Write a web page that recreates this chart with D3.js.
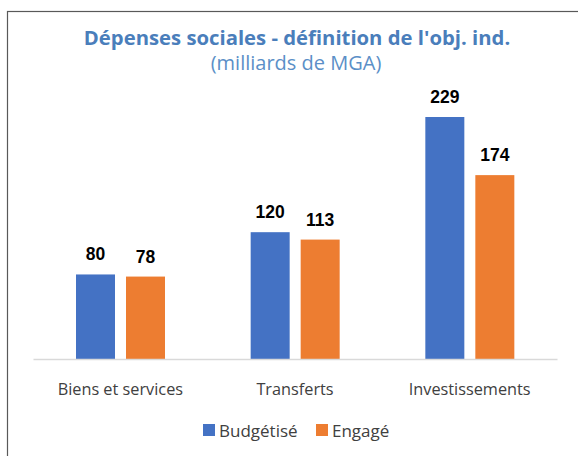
<!DOCTYPE html>
<html>
<head>
<meta charset="utf-8">
<script src="https://cdn.jsdelivr.net/npm/d3@7"></script>
<style>
  body { margin: 0; background: #fff; }
  svg { display: block; }
</style>
</head>
<body>
<svg></svg>
<script>
let width = 578;
let height = 456;

let categories = ['Biens et services', 'Transferts', 'Investissements'];
let seriesNames = ['Budgétisé', 'Engagé'];
let budgetise = [80, 120, 229];
let engage = [78, 113, 174];
let colors = ['#4472c4', '#ed7d31'];

let titleText = "Dépenses sociales - définition de l'obj. ind.";
let subtitleText = '(milliards de MGA)';

let font = "'Open Sans', 'Noto Sans', sans-serif";

let svg = d3.select('svg')
    .attr('width', width)
    .attr('height', height);

// chart frame, runs off the right and bottom edges
svg.append('rect')
    .attr('x', 7.5)
    .attr('y', 11.5)
    .attr('width', 600)
    .attr('height', 500)
    .attr('fill', '#fff')
    .attr('stroke', '#595959')
    .attr('stroke-width', 1.2);

let baseY = 359;

let x0 = d3.scaleBand()
    .domain(categories)
    .range([33, 557]);

let x1 = d3.scaleBand()
    .domain(seriesNames)
    .range([43, 132])
    .paddingInner(0.22);

let y = d3.scaleLinear()
    .domain([0, 229])
    .range([baseY, 117]);

let rows = categories.map((c, i) => ({cat: c, vals: [budgetise[i], engage[i]]}));

// bars
let groups = svg.selectAll('g.cat')
    .data(rows)
    .enter()
    .append('g')
    .attr('class', 'cat')
    .attr('transform', d => 'translate(' + x0(d.cat) + ',0)');

groups.selectAll('rect')
    .data(d => d.vals.map((v, j) => ({s: seriesNames[j], v: v, j: j})))
    .enter()
    .append('rect')
    .attr('x', d => x1(d.s))
    .attr('y', d => y(d.v))
    .attr('width', x1.bandwidth())
    .attr('height', d => baseY - y(d.v))
    .attr('fill', d => colors[d.j]);

groups.selectAll('text')
    .data(d => d.vals.map((v, j) => ({s: seriesNames[j], v: v})))
    .enter()
    .append('text')
    .attr('x', d => x1(d.s) + x1.bandwidth() / 2)
    .attr('y', d => y(d.v) - 14)
    .attr('text-anchor', 'middle')
    .style('font-family', "'Liberation Sans', Arial, sans-serif")
    .style('font-weight', 'bold')
    .style('font-size', '17.5px')
    .attr('fill', '#000')
    .text(d => d.v);

// x axis
let xAxis = d3.axisBottom(x0).tickSize(0).tickPadding(0);
let gx = svg.append('g')
    .attr('transform', 'translate(0,' + baseY + ')')
    .call(xAxis);
gx.select('.domain').attr('stroke', '#d9d9d9').attr('stroke-width', 1.5);
gx.selectAll('.tick text')
    .attr('dy', 0)
    .attr('y', 36)
    .style('font-family', font)
    .style('font-size', '16.3px')
    .attr('fill', '#404040');

// title
svg.append('text')
    .attr('x', 297)
    .attr('y', 45)
    .attr('text-anchor', 'middle')
    .style('font-family', font)
    .style('font-weight', 'bold')
    .style('font-size', '20.3px')
    .attr('fill', '#4a7ebb')
    .text(titleText);

svg.append('text')
    .attr('x', 296)
    .attr('y', 70)
    .attr('text-anchor', 'middle')
    .style('font-family', font)
    .style('font-size', '20px')
    .attr('fill', '#5b8fc7')
    .text(subtitleText);

// legend
let legendX = [203, 316];
let legend = svg.selectAll('g.legend')
    .data(seriesNames)
    .enter()
    .append('g')
    .attr('class', 'legend')
    .attr('transform', (d, i) => 'translate(' + legendX[i] + ',424)');

legend.append('rect')
    .attr('width', 12)
    .attr('height', 12)
    .attr('fill', (d, i) => colors[i]);

legend.append('text')
    .attr('x', 16)
    .attr('y', 13)
    .style('font-family', font)
    .style('font-size', '17px')
    .attr('fill', '#404040')
    .text(d => d);
</script>
</body>
</html>
